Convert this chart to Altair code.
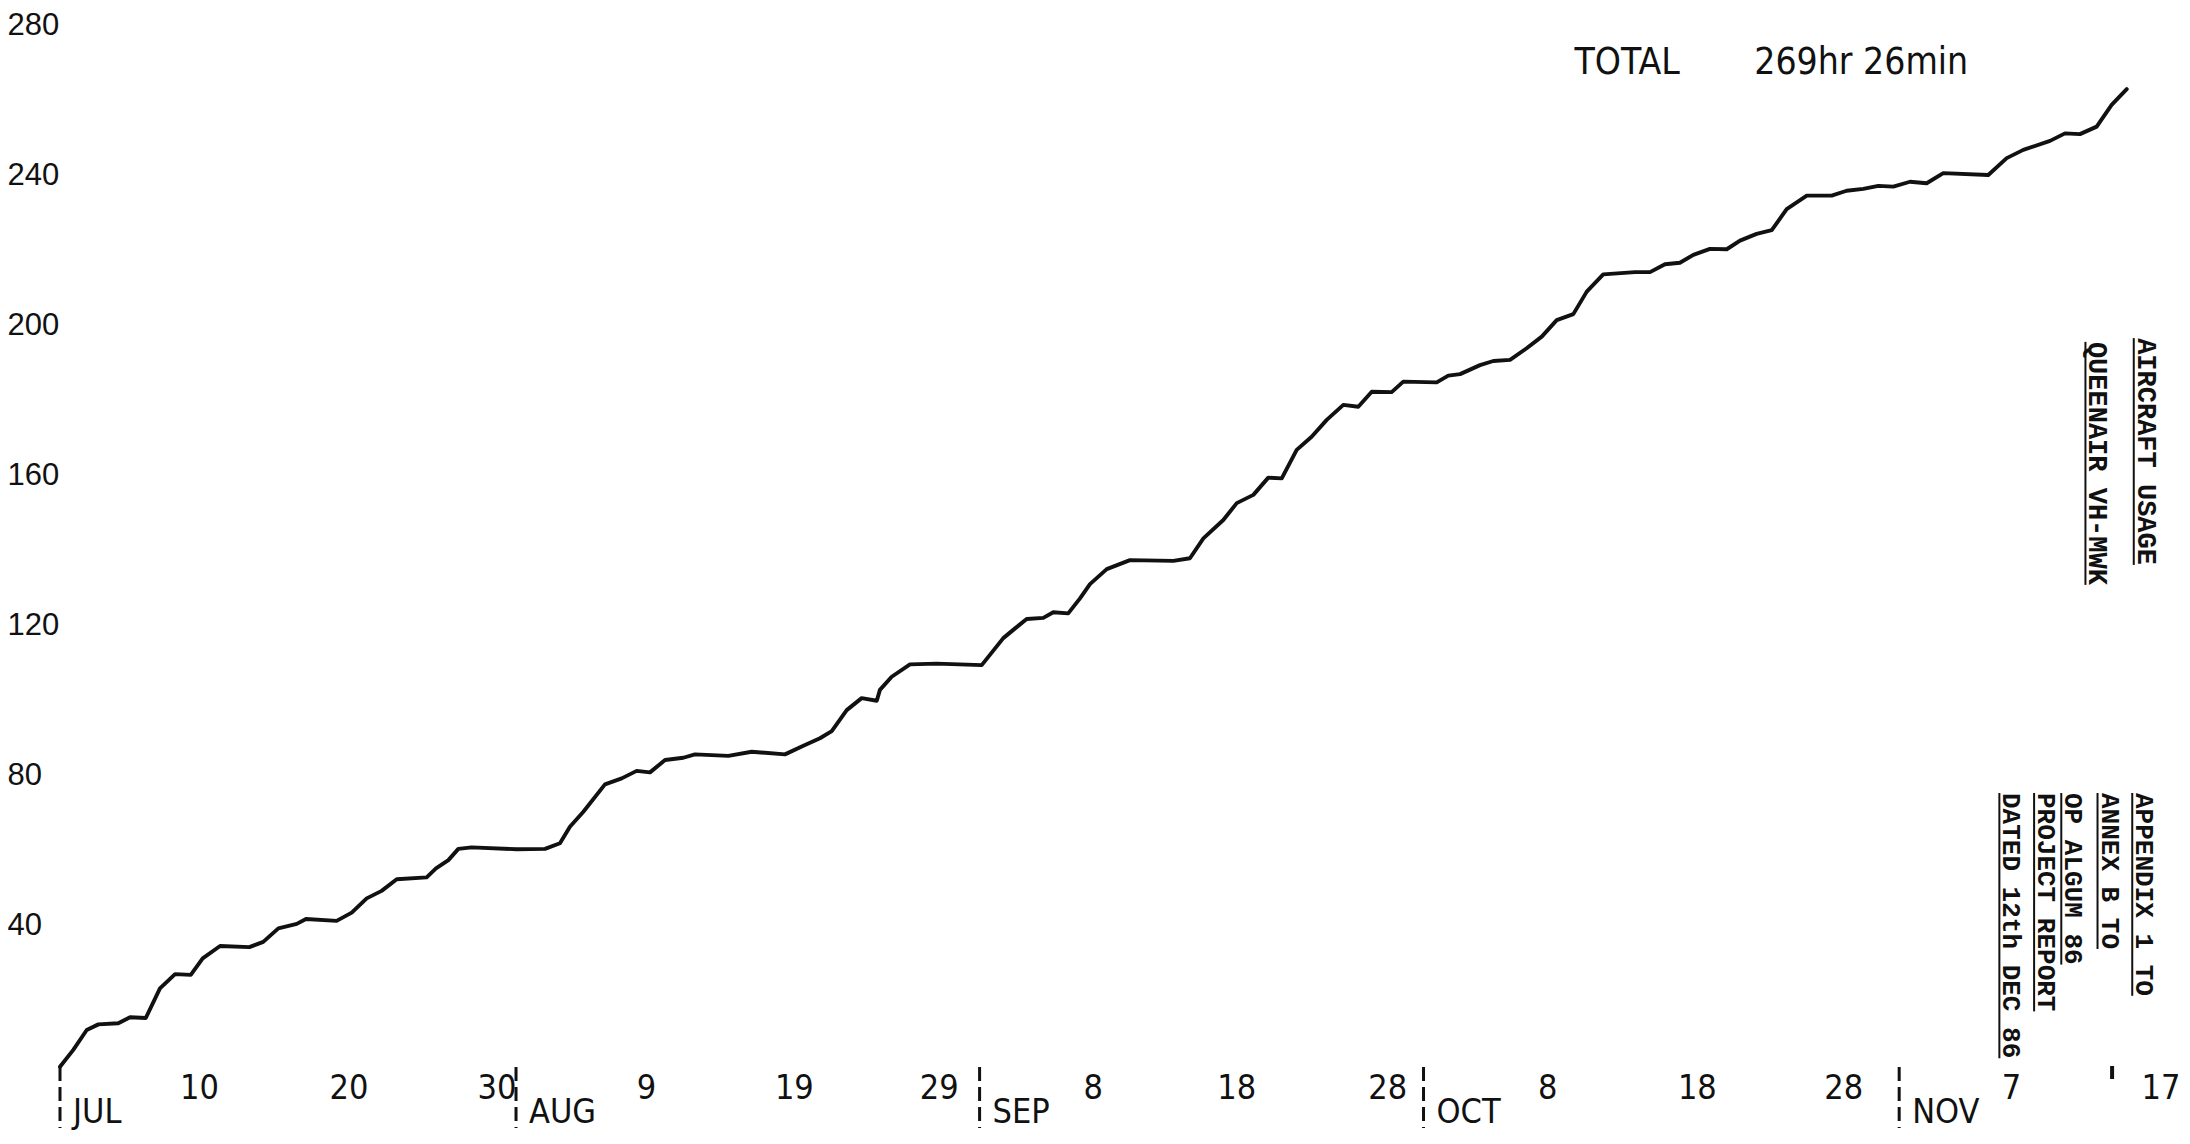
import altair as alt
import pandas as pd

# ---- data: x = days since 1 July, y = cumulative flying hours
days = [0, 0.88, 1.77, 2.54, 3.86, 4.64, 5.68, 6.62, 7.62, 8.66, 9.45, 10.6, 12.54, 13.46,
        14.46, 15.68, 16.29, 18.32, 19.32, 20.31, 21.3, 22.3, 24.28, 24.9, 25.72, 26.38,
        27.26, 30.25, 32.12, 33.11, 33.77, 34.66, 36.09, 37.2, 38.19, 39.07, 40.07, 41.28,
        42.05, 44.26, 45.81, 48.01, 49.23, 50.33, 51.11, 52.1, 53.09, 54.09, 54.3, 55.08,
        56.29, 58.06, 61.04, 62.47, 63.25, 64.02, 65.12, 65.78, 66.77, 67.55, 68.21, 69.32,
        70.86, 73.73, 74.83, 75.72, 77.04, 77.93, 79.03, 80.02, 80.91, 81.9, 82.89, 83.89,
        84.99, 85.98, 86.87, 88.19, 88.96, 91.17, 91.94, 92.72, 94.04, 94.92, 96.03, 97.13,
        98.13, 99.12, 100.22, 101.11, 102.2, 104.3, 105.3, 106.29, 107.28, 108.17, 109.27,
        110.38, 111.26, 112.36, 113.36, 114.35, 115.68, 117.33, 118.32, 119.42, 120.42,
        121.41, 122.52, 123.62, 124.72, 127.7, 128.92, 130.02, 131.79, 132.78, 133.77,
        134.88, 135.87, 136.87]
hours = [2.2, 6.7, 12.0, 13.5, 13.8, 15.4, 15.2, 23.1, 26.9, 26.7, 31.1, 34.4, 34.1, 35.5,
         39.1, 40.3, 41.6, 41.1, 43.3, 47.1, 49.1, 52.2, 52.7, 55.1, 57.3, 60.3,
         60.7, 60.2, 60.3, 61.8, 66.2, 70.2, 77.5, 79.1, 81.1, 80.7, 84.0, 84.6,
         85.5, 85.1, 86.2, 85.5, 87.8, 89.8, 91.7, 97.3, 100.5, 99.8, 102.7, 106.2,
         109.5, 109.7, 109.3, 116.5, 119.1, 121.6, 121.9, 123.4, 123.1, 127.1, 130.9, 134.9,
         137.3, 137.1, 137.8, 143.1, 148.0, 152.5, 154.7, 159.3, 159.1, 166.7, 170.2, 174.7,
         178.7, 178.2, 182.2, 182.1, 184.9, 184.7, 186.5, 186.9, 189.3, 190.4, 190.7, 193.8,
         196.9, 201.3, 202.9, 208.9, 213.5, 214.1, 214.1, 216.2, 216.6, 218.7, 220.3,
         220.2, 222.5, 224.3, 225.3, 230.9, 234.5, 234.5, 235.8, 236.3, 237.1,
         236.9, 238.2, 237.8, 240.5, 240.0, 244.5, 246.7, 249.1, 251.1, 250.9,
         252.9, 258.7, 262.9]

y_ticks = [40, 80, 120, 160, 200, 240, 280]
# hand-lettered day labels, at the places where they are written on the sheet
day_tick_pos = [9.2, 19.1, 28.9, 38.8, 48.6, 58.2, 68.4, 77.9, 87.9, 98.5, 108.4, 118.1, 129.2, 139.1]
day_tick_labels = ["10", "20", "30", "9", "19", "29", "8", "18", "28", "8", "18", "28", "7", "17"]

month_names = ["JUL", "AUG", "SEP", "OCT", "NOV"]
month_tick_days = [0, 30.2, 60.9, 90.3, 121.8]

total_texts = ["TOTAL", "269hr  26min"]
total_days = [100.3, 112.2]
total_hours = [269.9, 269.9]

title_texts = ["AIRCRAFT USAGE", "QUEENAIR VH-MWK"]
title_days = [137.6, 134.4]
title_hours = [196.5, 195.5]

appx_texts = ["APPENDIX 1 TO", "ANNEX B TO", "OP ALGUM 86", "PROJECT REPORT", "DATED 12th DEC 86"]
appx_days = [137.5, 135.2, 132.8, 131.0, 128.7]
appx_hours = [75.2, 75.2, 75.2, 75.2, 75.2]

end_mark_day = [135.9]

# ---- layout helpers
PX_PER_DAY = 15.1
PX_PER_HOUR = 3.75
W = int(round(140 * PX_PER_DAY))
H = int(round(280 * PX_PER_HOUR))
INK = "#111111"
COND = "Liberation Sans Narrow, DejaVu Sans Condensed, Roboto Condensed, Liberation Sans"
MONO = "Liberation Mono, DejaVu Sans Mono, monospace"

xs = alt.Scale(domain=[0, 140], nice=False, zero=False)
ys = alt.Scale(domain=[0, 280], nice=False, zero=False)

label_expr = " : ".join(
    f"abs(datum.value - {d}) < 0.01 ? '{t}'" for d, t in zip(day_tick_pos, day_tick_labels)
) + " : ''"

df = pd.DataFrame({"day": days, "hours": hours})

line = alt.Chart(df).mark_line(
    color=INK, strokeWidth=3.9, strokeJoin="round", strokeCap="round"
).encode(
    x=alt.X("day:Q", scale=xs, title=None, axis=alt.Axis(
        values=day_tick_pos, labelExpr=label_expr, title=None, grid=False, domain=False,
        ticks=False, labelPadding=13, labelBaseline="middle", labelFontSize=34,
        labelFont=COND, labelColor=INK, labelFlush=False, labelOverlap=False)),
    y=alt.Y("hours:Q", scale=ys, title=None, axis=alt.Axis(
        values=y_ticks, title=None, grid=False, domain=False, ticks=False,
        labelAlign="left", labelBaseline="middle", labelPadding=53, labelFontSize=31,
        labelFont="Liberation Sans", labelColor=INK, labelFlush=False, labelOverlap=False)),
)

month_df = pd.DataFrame({"day": month_tick_days, "month": month_names})
month_ticks = alt.Chart(month_df).mark_rule(
    color=INK, strokeWidth=3, strokeDash=[14, 6]
).encode(
    x=alt.X("day:Q", scale=xs, title=None),
    y=alt.value(H - 8), y2=alt.value(H + 53),
)
month_labels = alt.Chart(month_df).mark_text(
    align="left", baseline="middle", dx=13, fontSize=34, font=COND, color=INK
).encode(
    x=alt.X("day:Q", scale=xs, title=None),
    y=alt.value(H + 38),
    text="month:N",
)

end_df = pd.DataFrame({"day": end_mark_day})
end_mark = alt.Chart(end_df).mark_rule(color=INK, strokeWidth=4).encode(
    x=alt.X("day:Q", scale=xs, title=None),
    y=alt.value(H - 9), y2=alt.value(H + 4),
)

total_df = pd.DataFrame({"day": total_days, "hours": total_hours, "text": total_texts})
total = alt.Chart(total_df).mark_text(
    align="left", baseline="middle", fontSize=37, font=COND, color=INK
).encode(
    x=alt.X("day:Q", scale=xs, title=None),
    y=alt.Y("hours:Q", scale=ys, title=None),
    text="text:N",
)


def side_block(texts, ds, hs, fs):
    adv = 0.6 * fs
    d = pd.DataFrame({"day": ds, "hours": hs, "text": texts})
    d["uday"] = d["day"] - 4.0 / PX_PER_DAY
    d["hours2"] = d["hours"] - d["text"].str.len() * adv / PX_PER_HOUR
    txt = alt.Chart(d).mark_text(
        angle=90, align="left", baseline="alphabetic", fontSize=fs, font=MONO,
        fontWeight="bold", color=INK
    ).encode(
        x=alt.X("day:Q", scale=xs, title=None),
        y=alt.Y("hours:Q", scale=ys, title=None),
        text="text:N",
    )
    und = alt.Chart(d).mark_rule(color=INK, strokeWidth=2).encode(
        x=alt.X("uday:Q", scale=xs, title=None),
        y=alt.Y("hours:Q", scale=ys, title=None),
        y2="hours2:Q",
    )
    return txt + und


title_block = side_block(title_texts, title_days, title_hours, 27)
appx_block = side_block(appx_texts, appx_days, appx_hours, 26)

chart = alt.layer(
    line, month_ticks, month_labels, end_mark, total, title_block, appx_block
).properties(
    width=W, height=H,
    padding={"left": 52, "top": 17, "right": 8, "bottom": 58},
    autosize=alt.AutoSizeParams(type="none"),
    background="white",
).configure_view(stroke=None)

chart.save("out.html", embed_options={"renderer": "svg", "actions": False})
